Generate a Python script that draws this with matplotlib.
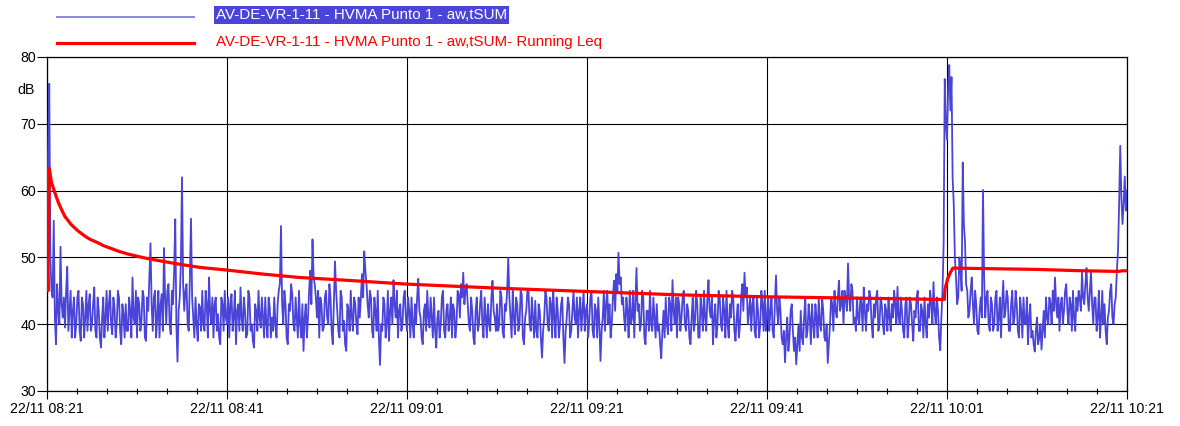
import datetime as dt
import numpy as np
import matplotlib
matplotlib.use("Agg")
import matplotlib.pyplot as plt
import matplotlib.dates as mdates
from matplotlib.lines import Line2D
from matplotlib.ticker import FixedLocator

# ---------------- data ----------------
start_time = dt.datetime(2023, 11, 22, 8, 21, 0)
sample_step_s = 15          # readings on the 15 s grid; a second set sits half-way between

blue_db = [
    52, 76, 45, 55.5, 37, 42, 51.6, 41, 39.5, 48.6, 42, 38, 44, 40, 45, 37.5, 43, 41, 39, 44.5,
    40, 45.5, 38, 42, 36.5, 44, 41, 39, 45, 38.5, 42.5, 40, 44, 37, 41.5, 43, 39, 42, 47, 40,
    38, 43, 40.5, 44, 37.5, 42, 52.1, 39, 45, 41, 38, 44.5, 51.4, 40, 46, 38.5, 43, 55.7, 34.4, 44,
    62, 42, 46, 39, 55.8, 41, 44, 37.5, 42.5, 45, 39, 43, 47, 40, 38, 44, 41.5, 37, 43, 45,
    40, 38, 44.5, 41, 37, 43, 45.5, 39, 42, 38.5, 44, 40, 36.5, 42, 45, 39.5, 41, 44, 38, 42.5,
    41, 44, 38, 45, 54.7, 40, 43, 37, 42, 44.5, 39, 41, 45, 38, 36, 43, 41, 48, 52.7, 46,
    41, 38, 43, 39.5, 45, 40, 44, 37, 49.4, 42, 38, 44, 40.5, 36, 42, 45, 39, 43, 38.5, 41,
    47.5, 50.9, 46, 41, 44, 38, 42, 45, 33.9, 39, 43, 40, 37.5, 44, 46.6, 41, 38, 43, 40, 45,
    39, 42, 44, 38, 40, 46.8, 41, 37, 43, 45, 39.5, 41, 44, 36.5, 42, 40, 45, 38, 43, 41,
    38, 42, 40, 44.5, 46, 47.7, 45, 43, 39, 42, 37, 44, 40, 45, 38, 41, 43, 39, 46.5, 41,
    43, 40, 44, 38, 42, 49.9, 41, 45, 38.5, 43, 40, 44.5, 37, 42, 45, 39, 41, 43.5, 38, 42,
    35, 41, 44, 39, 43, 45, 38, 42, 40, 44, 34.2, 41, 43, 39, 45, 40, 38, 44, 42, 39,
    43, 40.5, 45, 38, 42, 44, 34.5, 41, 39, 45, 43, 40, 46.5, 47.5, 50.7, 47, 44, 39, 42, 45,
    41, 38, 48.4, 43, 40, 44, 37, 42, 45, 39, 41, 43, 40, 34.9, 42, 44, 38.5, 43, 46.6, 40,
    38, 43, 41, 45, 39, 42, 37, 44, 40.5, 43, 38, 42, 45, 39, 46.6, 41, 37, 43, 40, 44,
    39, 42, 45, 38, 41, 44, 37.5, 43, 40, 46, 47.7, 45.5, 42, 39, 44, 38, 42, 40, 43, 45,
    41, 39, 44, 38, 47.3, 40, 42, 37, 34.3, 41, 38, 43, 36, 34, 40, 42, 37, 44, 39, 41,
    43, 38, 41, 44, 39, 42, 37.5, 34.2, 40, 43, 45, 41, 46.5, 43, 40, 44, 49.1, 42, 45, 41,
    44, 40, 43, 45.5, 39, 42, 44, 38, 41, 45, 40, 43, 38.5, 42, 44, 39, 41, 43, 45.6, 40,
    42, 38, 44, 40, 43, 37.5, 41, 45, 39, 42, 44, 38, 41, 43, 46.3, 40, 42, 36.1, 45, 76.7,
    67.6, 78.8, 77, 58, 47, 44, 48.5, 64.2, 52.3, 45, 42, 47, 40, 43, 38.5, 44, 60.1, 41, 45, 39,
    43, 40, 45, 41, 38, 46.5, 42, 44, 39, 45, 41, 43, 38, 42, 44, 40, 37, 43, 39, 35.9,
    41, 38, 36.2, 42, 44, 40, 43, 45, 47, 41, 39, 44, 42, 46, 40, 43, 45, 39, 42, 44,
    47.7, 43, 48.4, 42, 47.9, 40, 44, 41, 38, 45, 43, 37, 42, 46, 40, 44, 51, 66.7, 55, 62.1, 60,
]

blue_db_half = [
    65, 50, 44, 41, 46, 40, 43, 44, 45, 39, 45, 42, 38, 44, 39, 44, 38, 45, 43, 39,
    43, 39, 44, 38, 41, 38, 45, 43, 40, 44, 38, 45, 39, 43, 38, 39, 44, 38, 41, 45,
    44, 39, 45, 38, 44, 47, 43, 44, 38, 45, 43, 39, 44, 45, 40, 45, 48, 40, 42, 49,
    46, 45, 40, 47, 44, 38, 40, 43, 39, 40, 45, 38, 42, 44, 43, 39, 38, 44, 39, 41,
    44, 43, 39, 45, 42, 39, 41, 44, 38, 45, 39, 37.5, 43, 39, 41, 44, 38, 40, 44, 38,
    39, 40, 43, 46, 43, 45, 38, 43, 46, 40, 44, 38, 40, 43, 41, 38, 45, 43, 47, 44,
    45, 44, 39, 44, 41, 46, 39, 43, 45, 39, 45, 39, 37, 43, 39, 41, 44, 40, 44, 44,
    44, 48, 43, 45, 39, 44, 39, 38, 40, 44, 38, 45, 42, 40, 43, 45, 42, 39, 44, 41,
    44, 38, 40, 43, 44, 42, 38, 42, 39, 41, 44, 38, 39, 41, 38, 44, 39, 42, 39, 44,
    43, 38, 45, 41, 44, 43, 46, 40, 44, 38, 42, 39, 43, 40, 44, 38, 40, 44, 42, 39,
    39, 45, 39, 43, 45, 44, 38, 41, 44, 39, 45, 38, 41, 45, 40, 44, 38, 39, 43, 38,
    39, 45, 40, 44, 38, 41, 44, 38, 43, 38, 39, 44, 38, 42, 41, 44, 42, 39, 45, 42,
    38, 44, 39, 43, 38, 40, 39, 45, 43, 40, 38, 44, 42, 45, 46, 43, 41, 44, 38, 40,
    45, 43, 42, 39, 45, 38, 42, 39, 40, 44, 38, 39, 37, 39, 38, 40, 44, 39, 42, 44,
    44, 39, 44, 40, 43, 38, 41, 39, 45, 38, 44, 39, 41, 44, 42, 44, 41, 38, 45, 40,
    44, 38, 40, 43, 45, 39, 41, 38, 44, 42, 44, 40, 44, 43, 39, 44, 38, 45, 39, 39,
    44, 42, 39, 43, 42, 44, 38, 39, 38, 36, 42, 39, 38, 37, 36, 38, 41, 38, 43, 37,
    40, 43, 38, 40, 44, 38, 40, 37, 44, 39, 42, 44, 42, 45, 45, 42, 44, 46, 40, 39,
    41, 44, 39, 42, 43, 45, 40, 43, 44, 39, 44, 40, 43, 39, 41, 43, 45, 40, 41, 44,
    39, 43, 38, 44, 40, 42, 44, 39, 43, 38, 40, 43, 45, 40, 42, 44, 38, 41, 52, 70,
    75, 72, 62, 50, 43, 50, 45, 55, 46, 41, 45, 43, 45, 39, 42, 41, 47, 44, 40, 44,
    39, 44, 39, 44, 43, 41, 45, 39, 43, 40, 45, 39, 44, 38, 40, 44, 41, 38, 37, 39,
    37, 40, 39, 38, 41, 44, 40, 42, 43, 44, 43, 40, 45, 42, 44, 39, 41, 44, 45, 42,
    44, 46, 44, 45, 43, 44, 39, 45, 41, 40, 39, 41, 45, 41, 43, 48, 58, 59, 58, 57,
]

red_min = [0, 0.1, 0.25, 0.35, 0.5, 0.7, 0.9, 1.1, 1.3, 1.6, 2, 2.3, 2.7, 3.1, 3.5, 3.9,
           4.3, 4.8, 5.3, 5.8, 6.2, 7.2, 8, 9, 10.9, 12.5, 14.6, 17, 20, 24, 28, 33, 40,
           50, 60, 70, 80, 90, 99.7, 99.78, 100.1, 100.4, 100.65, 110, 115, 119, 119.5, 120]
red_db = [51, 45, 63.3, 62.5, 61.2, 60.4, 59.6, 58.8, 58.1, 57.2, 56.1, 55.6, 54.9, 54.4,
          53.9, 53.5, 53.1, 52.7, 52.4, 52.1, 51.8, 51.3, 50.9, 50.5, 49.9, 49.5, 49.0,
          48.5, 48.1, 47.5, 47.0, 46.6, 46.0, 45.4, 44.9, 44.4, 44.1, 43.9, 43.7, 45.3,
          46.9, 47.8, 48.4, 48.2, 48.0, 47.9, 48.0, 48.0]

y_ticks = [30, 40, 50, 60, 70, 80]
series_label = "AV-DE-VR-1-11 - HVMA Punto 1 - aw,tSUM"
leq_label = "AV-DE-VR-1-11 - HVMA Punto 1 - aw,tSUM- Running Leq"
unit_label = "dB"

# ---------------- style ----------------
BLUE = "#4a44d9"
RED = "#ff0000"
plt.rcParams["font.family"] = ["Liberation Sans", "DejaVu Sans"]

W, H, DPI = 1180, 426, 100
fig = plt.figure(figsize=(W / DPI, H / DPI), dpi=DPI)
ax = fig.add_axes([47 / W, 35 / H, 1080 / W, 334 / H])

# merge the on-grid and half-step readings in time order
pts = [(i * sample_step_s, v) for i, v in enumerate(blue_db)]
pts += [(i * sample_step_s + sample_step_s / 2, v) for i, v in enumerate(blue_db_half)]
pts.sort()
blue_t = [start_time + dt.timedelta(seconds=s) for s, _ in pts]
blue_v = [v for _, v in pts]
red_t = [start_time + dt.timedelta(minutes=m) for m in red_min]
end_time = start_time + dt.timedelta(minutes=120)

ax.plot(blue_t, blue_v, color=BLUE, lw=1.3, zorder=3)
ax.plot(red_t, red_db, color=RED, lw=2.3, zorder=4, solid_joinstyle="round")

ax.set_xlim(start_time, end_time)
ax.set_ylim(30, 80)
ax.set_yticks(y_ticks)

major = [start_time + dt.timedelta(minutes=20 * k) for k in range(7)]
minor = [start_time + dt.timedelta(seconds=200 * k) for k in range(37)]
ax.xaxis.set_major_locator(FixedLocator(mdates.date2num(major)))
ax.xaxis.set_minor_locator(FixedLocator(mdates.date2num(minor)))
ax.xaxis.set_major_formatter(mdates.DateFormatter("%d/%m %H:%M"))

ax.grid(True, which="major", color="black", lw=0.8)
ax.set_axisbelow(True)
for s in ax.spines.values():
    s.set_color("black")
    s.set_linewidth(0.9)

ax.tick_params(axis="x", which="major", direction="out", length=6, width=0.8, pad=2,
               labelsize=10.2, color="black")
ax.tick_params(axis="x", which="minor", direction="inout", length=4, width=0.8)
ax.tick_params(axis="y", which="major", direction="out", length=7, width=0.8, pad=1,
               labelsize=10.2)

fig.text(26 / W, 1 - 90 / H, unit_label, ha="center", va="center", fontsize=10.2)

# legend (top)
fig.add_artist(Line2D([57 / W, 194 / W], [1 - 17 / H, 1 - 17 / H], color="#8a86e6",
                      lw=1.4, transform=fig.transFigure))
fig.add_artist(Line2D([57 / W, 194 / W], [1 - 43 / H, 1 - 43 / H], color=RED,
                      lw=2.3, transform=fig.transFigure))
fig.text(216 / W, 1 - 15 / H, series_label, ha="left", va="center", fontsize=10.9,
         color="white",
         bbox=dict(boxstyle="square,pad=0.12", facecolor=BLUE, edgecolor="none"))
fig.text(216 / W, 1 - 42 / H, leq_label, ha="left", va="center", fontsize=10.9,
         color=RED)

fig.savefig("out.png", dpi=DPI)
